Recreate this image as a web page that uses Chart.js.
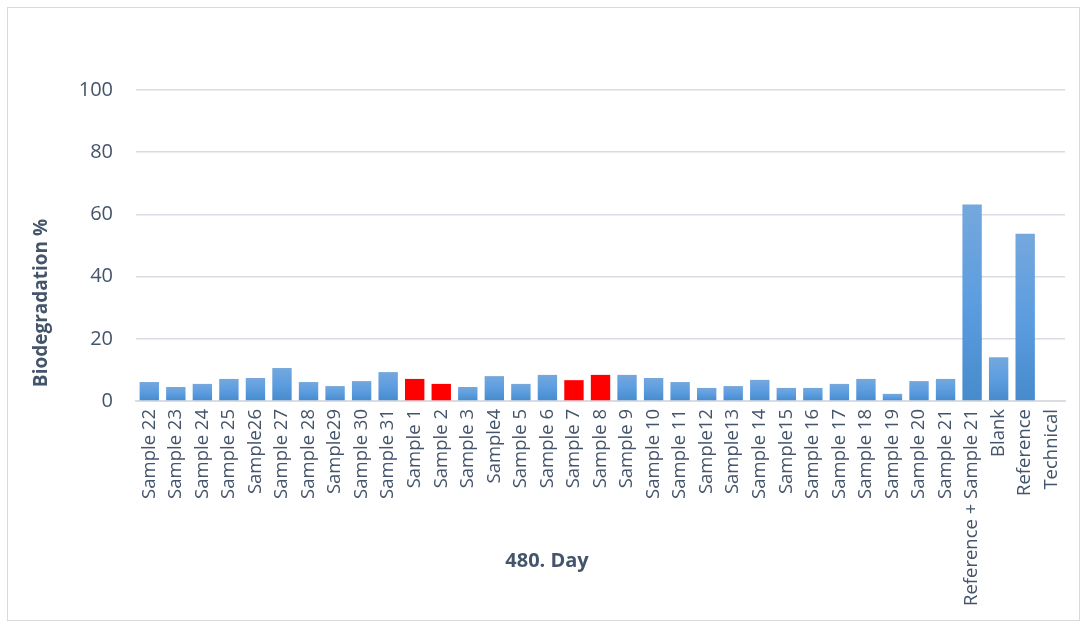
<!DOCTYPE html>
<html>
<head>
<meta charset="utf-8">
<script src="https://cdn.jsdelivr.net/npm/chart.js@4.4.1/dist/chart.umd.min.js"></script>
<style>
  html, body { margin: 0; padding: 0; background: #ffffff; }
  #wrap { position: relative; width: 1087px; height: 626px; }
</style>
</head>
<body>
<div id="wrap"><canvas id="bioChart" width="1087" height="626"></canvas></div>
<script>
// Chart data
const categories = [
  'Sample 22', 'Sample 23', 'Sample 24', 'Sample 25', 'Sample26', 'Sample 27',
  'Sample 28', 'Sample29', 'Sample 30', 'Sample 31', 'Sample 1', 'Sample 2',
  'Sample 3', 'Sample4', 'Sample 5', 'Sample 6', 'Sample 7', 'Sample 8',
  'Sample 9', 'Sample 10', 'Sample 11', 'Sample12', 'Sample13', 'Sample 14',
  'Sample15', 'Sample 16', 'Sample 17', 'Sample 18', 'Sample 19', 'Sample 20',
  'Sample 21', 'Reference + Sample 21', 'Blank', 'Reference', 'Technical'
];
const biodegradation = [
  6.1, 4.5, 5.5, 7.1, 7.4, 10.6,
  6.1, 4.8, 6.4, 9.3, 7.1, 5.5,
  4.5, 8.0, 5.5, 8.4, 6.7, 8.4,
  8.4, 7.4, 6.1, 4.2, 4.8, 6.8,
  4.2, 4.2, 5.5, 7.1, 2.3, 6.4,
  7.1, 63.2, 14.1, 53.8, null
];
// Samples drawn in red
const highlighted = ['Sample 1', 'Sample 2', 'Sample 7', 'Sample 8'];
const yTicks = [0, 20, 40, 60, 80, 100];

const TEXT_COLOR = '#44546a';
const GRID_COLOR = '#d9dce2';
const FONT = "'Open Sans', 'Noto Sans', sans-serif";

// Vertical gradient for each blue bar, like the Excel fill
function barFill(context) {
  const label = categories[context.dataIndex];
  if (highlighted.includes(label)) return '#ff0000';
  const chart = context.chart;
  const yScale = chart.scales.y;
  const value = biodegradation[context.dataIndex];
  if (!chart.chartArea || !yScale || value == null) return '#5b9bd5';
  const top = yScale.getPixelForValue(value);
  const bottom = yScale.getPixelForValue(0);
  if (!isFinite(top) || bottom - top < 1) return '#5b9bd5';
  const g = chart.ctx.createLinearGradient(0, top, 0, bottom);
  g.addColorStop(0, '#75a8dd');
  g.addColorStop(0.5, '#5c9de0');
  g.addColorStop(1, '#478bcc');
  return g;
}

// Frame around the whole chart plus the two axis titles
const framePlugin = {
  id: 'frame',
  beforeDraw(chart) {
    const ctx = chart.ctx;
    ctx.save();
    ctx.strokeStyle = '#d9d9d9';
    ctx.lineWidth = 1;
    ctx.strokeRect(7.5, 7.5, 1072, 613);
    ctx.restore();
  },
  afterDraw(chart) {
    const ctx = chart.ctx;
    ctx.save();
    ctx.fillStyle = TEXT_COLOR;
    ctx.font = "bold 20px " + FONT;
    ctx.textAlign = 'center';
    ctx.textBaseline = 'middle';
    ctx.fillText('480. Day', 547, 561);
    ctx.translate(42, 303);
    ctx.rotate(-Math.PI / 2);
    ctx.font = "bold 19px " + FONT;
    ctx.fillText('Biodegradation %', 0, 0);
    ctx.restore();
  }
};

new Chart(document.getElementById('bioChart').getContext('2d'), {
  type: 'bar',
  data: {
    labels: categories,
    datasets: [{
      label: 'Biodegradation %',
      data: biodegradation,
      backgroundColor: barFill,
      borderWidth: 0,
      barPercentage: 0.73,
      categoryPercentage: 1.0
    }]
  },
  plugins: [framePlugin],
  options: {
    responsive: false,
    animation: false,
    layout: {
      padding: { top: 90, right: 22, bottom: 5, left: 0 }
    },
    scales: {
      x: {
        grid: { display: false, drawTicks: false },
        border: { display: true, color: GRID_COLOR, width: 2 },
        ticks: {
          color: TEXT_COLOR,
          font: { family: FONT, size: 18.5 },
          minRotation: 90,
          maxRotation: 90,
          autoSkip: false,
          padding: 8
        },
        afterFit(scale) { scale.height = 220; }
      },
      y: {
        min: 0,
        max: 100,
        afterBuildTicks(scale) {
          scale.ticks = yTicks.map(v => ({ value: v }));
        },
        grid: { color: GRID_COLOR, lineWidth: 1.5, drawTicks: false },
        border: { display: false },
        ticks: {
          color: TEXT_COLOR,
          font: { family: FONT, size: 20 },
          padding: 23
        },
        afterFit(scale) { scale.width = 136; }
      }
    },
    plugins: {
      legend: { display: false },
      tooltip: { enabled: false }
    }
  }
});
</script>
</body>
</html>
